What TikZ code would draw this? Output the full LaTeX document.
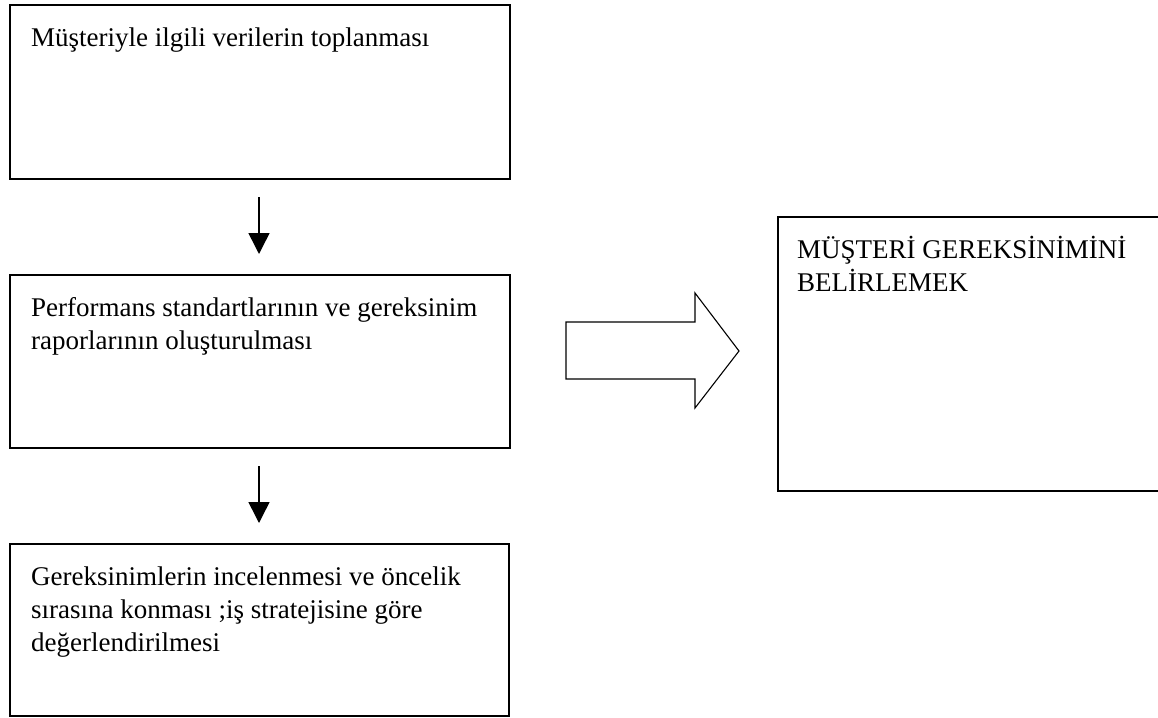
\documentclass[tikz,border=0pt]{standalone}
\usepackage{fontspec}
\setmainfont{Liberation Serif}
\usetikzlibrary{arrows.meta,calc}
\begin{document}
\begin{tikzpicture}[x=1pt,y=-1pt,
  box/.style={draw=black,line width=1.6pt,fill=none,inner sep=0pt,anchor=north west},
  txt/.style={anchor=base west,inner sep=0pt,align=left,
    font=\fontsize{27}{33}\selectfont},
  flow/.style={line width=1.5pt,-{Triangle[width=21pt,length=21pt]}},
  bigarrow/.style={draw=black,line width=1.1pt,line join=miter}]
\useasboundingbox (0,0) rectangle (1158,717);
% left column of steps
\node[box,minimum width=500pt,minimum height=174pt] (b1) at (9,4) {};
\node[box,minimum width=500pt,minimum height=173pt] (b2) at (9,274) {};
\node[box,minimum width=499pt,minimum height=172pt] (b3) at (9,543) {};
% text nodes are placed at the baseline of their last line
\node[txt] (t1) at (31,47) {Müşteriyle ilgili verilerin toplanması};
\node[txt] (t2) at (31,349) {Performans standartlarının ve gereksinim\\raporlarının oluşturulması};
\node[txt] (t3) at (31,651) {Gereksinimlerin incelenmesi ve öncelik\\sırasına konması ;iş stratejisine göre\\değerlendirilmesi};
% arrows between the steps
\coordinate (a1s) at (259,197);
\coordinate (a1e) at (259,254);
\coordinate (a2s) at (259,466);
\coordinate (a2e) at (259,523);
\draw[flow] (a1s) -- (a1e);
\draw[flow] (a2s) -- (a2e);
% block arrow towards the goal
\draw[bigarrow] (566,322) -- (695,322) -- (695,293) -- (739,351) -- (695,408) -- (695,379) -- (566,379) -- cycle;
% goal box
\node[box,minimum width=393pt,minimum height=274pt] (goal) at (777,216) {};
\node[txt] (tg) at (797,291) {MÜŞTERİ GEREKSİNİMİNİ\\BELİRLEMEK};
\end{tikzpicture}
\end{document}
